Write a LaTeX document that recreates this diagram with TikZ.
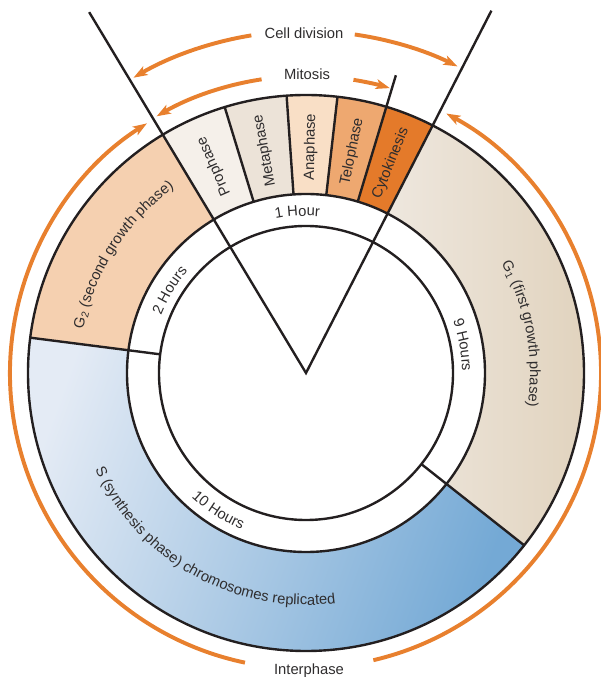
\documentclass[tikz,border=0pt]{standalone}
\usepackage{fontspec}
\setmainfont{Liberation Sans}
\usetikzlibrary{arrows.meta,decorations.text}
\definecolor{inkdark}{HTML}{231F20}
\definecolor{textgray}{HTML}{2F2D2E}
\definecolor{arroworange}{HTML}{E8802E}
\definecolor{proph}{HTML}{F5F0EA}
\definecolor{metaph}{HTML}{ECE3D8}
\definecolor{anaph}{HTML}{F9DFC6}
\definecolor{teloph}{HTML}{EEA870}
\definecolor{cytok}{HTML}{E47A2A}
\definecolor{gtwo}{HTML}{F5D0B0}
\definecolor{gonelight}{HTML}{EEE7DE}
\definecolor{gonedark}{HTML}{E1D3BE}
\definecolor{slight}{HTML}{E4EBF5}
\definecolor{sdark}{HTML}{74A9D5}
\newcommand\cyclefont{\fontsize{10.5}{12.6}\selectfont}

\begin{document}
\begin{tikzpicture}[x=0.25mm, y=0.25mm,
  ring/.style={draw=inkdark, line width=1.7pt},
  cyc/.style={draw=arroworange, line width=2.8pt, -{Stealth[length=10pt, width=7pt, inset=2.5pt]}},
  lab/.style={font=\cyclefont, text=textgray, inner sep=0pt},
  curved/.style={decorate, decoration={text along path, text align=center, text color=textgray, text={|\cyclefont|#1}}}]
\useasboundingbox (-306,-304) rectangle (294,373);
\coordinate (apex) at (0,0);
\foreach \a/\b/\c in {121/107/proph, 107/94/metaph, 94/83.5/anaph, 83.5/73.2/teloph, 73.2/62.9/cytok, 172.7/121/gtwo}
  \fill[\c] (\a:278) arc[start angle=\a, end angle=\b, radius=278] -- (\b:179) arc[start angle=\b, end angle=\a, radius=179] -- cycle;
\shade[left color=gonelight, right color=gonedark] (62.9:278) arc[start angle=62.9, end angle=-38.3, radius=278] -- (-38.3:179) arc[start angle=-38.3, end angle=62.9, radius=179] -- cycle;
\shade[top color=slight, bottom color=sdark, shading angle=70] (172.7:278) arc[start angle=172.7, end angle=321.7, radius=278] -- (321.7:179) arc[start angle=321.7, end angle=172.7, radius=179] -- cycle;
\foreach \r in {147,179,278}
  \draw[ring] (apex) circle[radius=\r];
\foreach \a in {107,94,83.5}
  \draw[ring] (\a:179) -- (\a:278);
\foreach \a in {172.7,-38.3}
  \draw[ring] (\a:147) -- (\a:278);
\draw[ring] (73.2:179) -- (73.2:311);
\draw[ring] (121:421) -- (apex) -- (62.9:407);
\foreach \a/\t in {114/Prophase, 100.5/Metaphase, 88.8/Anaphase, 78.2/Telophase, 68/Cytokinesis}
  \node[lab, rotate=\a] (\t) at (\a:226) {\t};
\path[curved={1 Hour}] (123.1:157) arc[start angle=123.1, end angle=63.1, radius=157];
\path[curved={2 Hours}] (168.8:156) arc[start angle=168.8, end angle=128.8, radius=156];
\path[curved={9 Hours}] (30.1:156) arc[start angle=30.1, end angle=-9.9, radius=156];
\path[curved={10 Hours}] (217.5:169) arc[start angle=217.5, end angle=257.5, radius=169];
\path[curved={G{\textsubscript{1}} (first growth phase)}] (50.4:224) arc[start angle=50.4, end angle=-29.6, radius=224];
\path[curved={G{\textsubscript{2}} (second growth phase)}] (187.2:227) arc[start angle=187.2, end angle=107.2, radius=227];
\path[curved={S (synthesis phase) chromosomes replicated}] (186:232) arc[start angle=186, end angle=296, radius=232];
\node[lab, anchor=base] (celldiv) at (-2,334) {Cell division};
\node[lab, anchor=base] (mitosis) at (1,293) {Mitosis};
\node[lab, anchor=base] (interphase) at (3,-301) {Interphase};
\draw[cyc] (99.2:342) arc[start angle=99.2, end angle=120.3, radius=342];
\draw[cyc] (81.8:342) arc[start angle=81.8, end angle=63.7, radius=342];
\draw[cyc] (98.6:297) arc[start angle=98.6, end angle=120.2, radius=297];
\draw[cyc] (80.8:297) arc[start angle=80.8, end angle=73.6, radius=297];
\draw[cyc] (258.1:296) arc[start angle=258.1, end angle=122.5, radius=296];
\draw[cyc] (-76.8:295) arc[start angle=-76.8, end angle=61.6, radius=295];
\end{tikzpicture}
\end{document}
